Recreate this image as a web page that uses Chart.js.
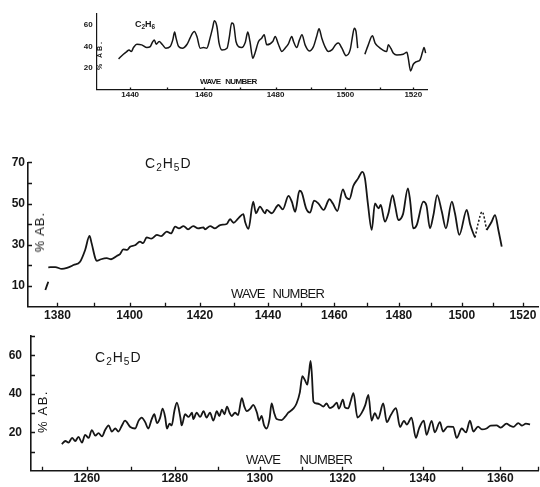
<!DOCTYPE html>
<html>
<head>
<meta charset="utf-8">
<script src="https://cdn.jsdelivr.net/npm/chart.js@4.4.1/dist/chart.umd.min.js"></script>
<style>
    body { margin: 0; background: #fff; }
    #page { position: relative; width: 540px; height: 487px; overflow: hidden;
            font-family: "Liberation Sans", Arial, sans-serif; color: #161616; }
    canvas { position: absolute; }
    .lbl { position: absolute; white-space: nowrap; line-height: 1; }
    .lbl sub { font-size: 0.72em; vertical-align: -0.32em; line-height: 0; }
    .vert { writing-mode: vertical-rl; transform: rotate(180deg); }
</style>
</head>
<body>
<div id="page">
    <canvas id="panelTop" width="380" height="105" style="left:60px;top:0px"></canvas>
    <canvas id="panelMid" width="540" height="175" style="left:0px;top:150px"></canvas>
    <canvas id="panelLow" width="540" height="167" style="left:0px;top:320px"></canvas>

    <div class="lbl" style="left:135px;top:20px;font-size:9px;font-weight:bold">C<sub>2</sub>H<sub>6</sub></div>
    <div class="lbl vert" style="left:96px;top:40px;font-size:7px;font-weight:bold;letter-spacing:2px">% AB.</div>
    <div class="lbl" style="left:200px;top:78px;font-size:8px;font-weight:bold;letter-spacing:-0.6px;word-spacing:3px">WAVE NUMBER</div>

    <div class="lbl" style="left:145px;top:156px;font-size:14px;letter-spacing:1px">C<sub>2</sub>H<sub>5</sub>D</div>
    <div class="lbl vert" style="left:33px;top:212px;font-size:13px;letter-spacing:1px">% AB.</div>
    <div class="lbl" style="left:231px;top:287px;font-size:13px;letter-spacing:-0.8px;word-spacing:5px">WAVE NUMBER</div>

    <div class="lbl" style="left:95px;top:350px;font-size:14px;letter-spacing:1px">C<sub>2</sub>H<sub>5</sub>D</div>
    <div class="lbl vert" style="left:36px;top:390px;font-size:13px;letter-spacing:1.5px">% AB.</div>
    <div class="lbl" style="left:246px;top:453px;font-size:13px;letter-spacing:-0.6px;word-spacing:16px">WAVE NUMBER</div>
</div>
<script>
// ------------------------------------------------------------------
// Data (wave number, % absorption)
// ------------------------------------------------------------------

// top: C2H6, gap in the trace near 1504
const c2h6_wn = [
    1436.9, 1438.2, 1439.1, 1439.7, 1440.3, 1440.9, 1441.8, 1443.1, 1444.5, 1445.4,
    1446.0, 1446.5, 1447.0, 1447.8, 1448.6, 1449.6, 1450.8, 1451.5, 1452.0, 1452.4,
    1453.1, 1454.1, 1455.4, 1456.2, 1456.9, 1457.4, 1458.1, 1459.0, 1459.9, 1460.8,
    1461.7, 1462.4, 1462.9, 1463.6, 1464.2, 1465.0, 1466.4, 1467.0, 1467.7, 1468.2,
    1468.9, 1469.6, 1470.5, 1471.5, 1472.2, 1472.8, 1473.6, 1474.2, 1475.2, 1476.1,
    1476.8, 1477.5, 1479.2, 1479.9, 1480.8, 1481.8, 1482.7, 1483.6, 1484.6, 1485.1,
    1486.0, 1486.8, 1487.5, 1488.4, 1489.6, 1490.8, 1491.7, 1492.4, 1493.2, 1494.1,
    1495.1, 1496.1, 1497.3, 1498.0, 1499.0, 1500.2, 1501.4, 1502.0, 1502.6, 1503.1,
    1503.6, 1504.6, 1505.7, 1506.7, 1507.9, 1508.7, 1509.6, 1510.9, 1512.1, 1512.6,
    1513.3, 1514.1, 1515.1, 1517.0, 1518.1, 1518.5, 1519.2, 1520.0, 1521.0, 1522.0,
    1522.8, 1523.2, 1523.7,
];
const c2h6_ab = [
    28.4, 32.7, 35.2, 36.7, 35.2, 38.9, 42.0, 41.4, 38.9, 39.8,
    43.9, 46.0, 42.0, 44.5, 42.0, 38.3, 39.8, 46.0, 53.2, 47.6,
    39.8, 38.3, 42.0, 47.6, 52.3, 53.8, 49.1, 38.3, 38.9, 38.3,
    47.6, 56.9, 63.7, 58.4, 43.0, 36.7, 38.3, 47.6, 61.6, 60.7,
    44.5, 39.8, 38.9, 43.9, 53.2, 44.5, 29.0, 33.7, 44.5, 47.6,
    50.7, 41.4, 44.5, 49.1, 42.0, 35.2, 38.3, 42.0, 49.1, 44.5,
    38.9, 46.0, 50.7, 41.4, 35.8, 39.8, 49.1, 56.3, 47.6, 39.8,
    35.2, 36.7, 42.0, 43.0, 38.3, 31.4, 36.7, 47.6, 56.9, 53.8,
    38.3, null, 32.7, 41.4, 49.8, 43.0, 39.8, 36.7, 35.2, 41.4,
    38.3, 33.7, 32.1, 32.7, 34.6, 29.0, 17.2, 23.4, 25.9, 27.4,
    35.2, 38.9, 33.7,
];

// middle: C2H5D 1380-1513, dotted stretch near 1506
const c2h5d_hi_wn = [
    1377.5, 1379.4, 1381.2, 1382.6, 1384.4, 1386.2, 1387.6, 1388.8, 1389.4, 1390.4,
    1390.8, 1392.0, 1393.6, 1394.8, 1396.4, 1397.3, 1398.2, 1399.3, 1400.1, 1401.5,
    1402.9, 1403.8, 1404.8, 1406.1, 1407.7, 1408.9, 1410.5, 1411.7, 1412.9, 1414.0,
    1415.3, 1416.6, 1418.1, 1419.5, 1421.0, 1421.5, 1423.0, 1424.4, 1425.9, 1427.8,
    1428.8, 1429.8, 1431.2, 1432.7, 1433.2, 1434.2, 1435.6, 1436.4, 1437.6, 1439.1,
    1439.6, 1441.1, 1443.1, 1444.4, 1446.1, 1447.1, 1448.1, 1449.4, 1450.1, 1451.4,
    1452.6, 1453.8, 1455.1, 1456.7, 1458.5, 1459.5, 1460.9, 1462.6, 1463.6, 1464.6,
    1465.8, 1467.3, 1468.6, 1469.4, 1470.3, 1471.5, 1472.5, 1473.6, 1474.3, 1475.6,
    1476.7, 1478.0, 1478.8, 1479.8, 1481.3, 1482.8, 1483.5, 1484.5, 1485.6, 1487.7,
    1488.7, 1489.8, 1490.9, 1492.1, 1493.6, 1494.9, 1496.8, 1497.8, 1499.2, 1501.6,
    1502.7, 1503.7, 1504.3, 1506.6, 1508.1, 1509.7, 1510.8, 1511.9, 1513.0,
];
const c2h5d_hi_ab = [
    19.1, 19.2, 18.3, 18.8, 20.2, 21.8, 27.5, 34.3, 30.7, 23.5,
    22.2, 23.0, 23.5, 23.0, 24.6, 25.5, 27.8, 27.5, 29.1, 29.8,
    31.5, 30.8, 33.6, 33.0, 34.8, 34.2, 36.4, 35.5, 38.8, 38.0,
    39.1, 37.5, 39.1, 38.0, 38.5, 37.5, 39.1, 38.0, 39.6, 40.1,
    42.4, 40.7, 42.8, 44.9, 41.2, 37.7, 50.9, 45.3, 48.5, 45.3,
    46.9, 45.3, 49.3, 47.2, 53.7, 50.9, 46.0, 56.2, 55.3, 47.7,
    45.6, 51.4, 50.1, 46.9, 52.1, 50.1, 46.4, 56.9, 53.0, 52.1,
    58.5, 62.2, 65.4, 62.2, 50.1, 37.2, 50.1, 47.7, 49.3, 41.2,
    45.3, 54.1, 49.0, 42.0, 45.0, 57.4, 51.7, 38.0, 39.6, 50.9,
    49.0, 38.0, 44.4, 54.1, 46.0, 38.0, 50.9, 45.3, 34.8, 46.9,
    40.0, 35.6, 33.6, null, 37.2, 41.2, 44.4, 37.2, 29.1,
];
const c2h5d_dot_wn = [1504.3, 1505.3, 1506.6, 1508.1];
const c2h5d_dot_ab = [33.6, 40.4, 46.0, 37.2];
const c2h5d_stub_wn = [1376.7, 1377.5];
const c2h5d_stub_ab = [8.1, 12.1];

// bottom: C2H5D 1254-1368
const c2h5d_lo_wn = [
    1254.4, 1255.2, 1255.9, 1256.7, 1257.4, 1258.1, 1258.9, 1259.6, 1260.4, 1261.1,
    1261.9, 1262.6, 1263.4, 1264.1, 1264.9, 1265.6, 1266.4, 1267.1, 1267.9, 1268.6,
    1269.8, 1270.9, 1271.7, 1272.4, 1273.2, 1273.9, 1274.7, 1275.3, 1275.9, 1276.6,
    1277.2, 1277.8, 1278.2, 1278.8, 1279.3, 1279.9, 1280.5, 1281.3, 1281.6, 1282.4,
    1283.2, 1284.0, 1284.3, 1285.1, 1285.9, 1286.7, 1287.4, 1288.2, 1289.0, 1289.8,
    1290.4, 1291.0, 1291.6, 1292.2, 1292.8, 1293.3, 1294.1, 1294.8, 1295.7, 1296.3,
    1296.9, 1297.7, 1298.4, 1299.3, 1299.8, 1300.4, 1301.0, 1301.6, 1302.3, 1302.8,
    1303.4, 1304.0, 1305.2, 1306.0, 1306.8, 1308.0, 1308.8, 1309.6, 1310.2, 1310.8,
    1311.4, 1311.8, 1312.2, 1312.5, 1312.9, 1313.7, 1314.5, 1315.3, 1316.1, 1316.9,
    1317.7, 1318.6, 1319.1, 1320.1, 1320.6, 1321.4, 1322.0, 1322.7, 1323.7, 1324.7,
    1325.6, 1326.4, 1327.2, 1328.0, 1328.8, 1330.1, 1331.0, 1332.0, 1333.3, 1334.3,
    1335.3, 1336.0, 1337.2, 1338.3, 1339.1, 1340.3, 1341.0, 1342.3, 1343.1, 1344.4,
    1345.2, 1346.4, 1347.8, 1348.7, 1350.0, 1351.1, 1352.1, 1353.0, 1354.2, 1355.2,
    1356.4, 1357.5, 1359.0, 1360.1, 1361.6, 1362.5, 1363.4, 1364.7, 1365.7, 1366.7,
    1367.8,
];
const c2h5d_lo_ab = [
    13.9, 15.5, 14.7, 17.1, 15.5, 17.6, 14.7, 18.7, 17.1, 21.2,
    18.3, 19.6, 17.9, 21.2, 23.6, 20.4, 22.0, 20.4, 23.6, 26.1,
    22.8, 22.0, 26.1, 27.7, 25.3, 22.0, 26.9, 29.4, 24.8, 27.4,
    32.3, 27.7, 22.0, 24.5, 23.6, 31.0, 35.4, 27.7, 23.6, 29.4,
    28.0, 30.2, 26.9, 30.2, 28.0, 31.0, 27.7, 30.2, 26.1, 31.0,
    28.5, 31.8, 29.4, 33.4, 30.2, 28.5, 30.2, 29.0, 37.8, 33.4,
    31.0, 32.3, 34.3, 30.2, 26.1, 28.5, 23.6, 22.0, 26.9, 35.0,
    30.2, 26.9, 26.4, 28.0, 30.2, 32.3, 35.0, 40.8, 49.2, 47.3,
    44.8, 50.6, 57.1, 50.6, 36.0, 35.0, 34.5, 33.4, 35.0, 32.6,
    33.4, 35.5, 32.3, 37.0, 33.0, 32.5, 36.0, 40.4, 27.7, 30.0,
    34.0, 39.5, 26.1, 30.0, 27.0, 35.0, 25.3, 29.0, 32.6, 22.8,
    26.0, 24.0, 27.7, 17.1, 22.0, 26.1, 18.7, 26.0, 20.0, 25.3,
    20.4, 23.0, 22.8, 17.1, 22.0, 20.0, 26.1, 20.4, 23.0, 21.5,
    22.0, 23.5, 23.6, 22.5, 24.5, 23.5, 22.8, 24.8, 23.5, 24.5,
    24.1,
];

// axis ticks
const top_x_ticks = [1440, 1450, 1460, 1470, 1480, 1490, 1500, 1510, 1520];
const top_y_ticks = [20, 40, 60];
const mid_x_ticks = [1380, 1390, 1400, 1410, 1420, 1430, 1440, 1450, 1460, 1470, 1480, 1490, 1500, 1510, 1520];
const mid_y_ticks = [10, 20, 30, 40, 50, 60, 70];
const mid_y_labels = [10, 30, 50, 70];
const low_x_ticks = [1250, 1260, 1270, 1280, 1290, 1300, 1310, 1320, 1330, 1340, 1350, 1360, 1370];
const low_y_ticks = [10, 20, 30, 40, 50, 60, 70];
const low_y_labels = [20, 40, 60];

// ------------------------------------------------------------------
// Helpers
// ------------------------------------------------------------------

const INK = '#161616';

// the chart paper is linear in wavelength, so plot against 1e4 / wave number
function to_um(wn) {
    return 1e4 / wn;
}

function series(wn, ab) {
    return wn.map((w, i) => ({ x: to_um(w), y: ab[i] }));
}

// tick marks pointing into the plot
const inner_ticks = {
    id: 'innerTicks',
    afterDraw(chart, args, opts) {
        const { ctx, chartArea, scales } = chart;
        ctx.save();
        ctx.strokeStyle = INK;
        ctx.lineWidth = 1.3;
        ctx.beginPath();
        if (opts.x) {
            scales.x.ticks.forEach(t => {
                const px = Math.round(scales.x.getPixelForValue(t.value)) + 0.5;
                ctx.moveTo(px, chartArea.bottom);
                ctx.lineTo(px, chartArea.bottom - opts.x);
            });
        }
        if (opts.y) {
            scales.y.ticks.forEach(t => {
                const py = Math.round(scales.y.getPixelForValue(t.value)) + 0.5;
                ctx.moveTo(chartArea.left, py);
                ctx.lineTo(chartArea.left + opts.y, py);
            });
        }
        ctx.stroke();
        ctx.restore();
    },
};

function build_panel(canvas_id, p) {
    new Chart(document.getElementById(canvas_id), {
        type: 'line',
        data: { datasets: p.datasets },
        options: {
            responsive: false,
            animation: false,
            layout: { padding: p.padding },
            elements: {
                point: { radius: 0 },
                line: { borderColor: INK, borderWidth: p.lw, cubicInterpolationMode: 'monotone', fill: false },
            },
            plugins: {
                legend: { display: false },
                tooltip: { enabled: false },
                innerTicks: p.inner,
            },
            scales: {
                x: {
                    type: 'linear',
                    reverse: true,
                    min: to_um(p.wn_max),
                    max: to_um(p.wn_min),
                    afterBuildTicks: s => { s.ticks = p.x_ticks.map(w => ({ value: to_um(w) })); },
                    afterFit: s => { s.height = p.x_h; },
                    grid: { display: false, drawTicks: false },
                    border: { display: true, color: INK, width: p.axis_w },
                    ticks: {
                        autoSkip: false,
                        maxRotation: 0,
                        padding: p.x_pad,
                        color: INK,
                        font: p.font,
                        callback: v => {
                            const w = Math.round(1e4 / v);
                            return w % 20 === 0 ? String(w) : '';
                        },
                    },
                },
                y: {
                    min: 0,
                    max: 70,
                    afterBuildTicks: s => { s.ticks = p.y_ticks.map(v => ({ value: v })); },
                    afterFit: s => { s.width = p.y_w; },
                    grid: { display: false, drawTicks: false },
                    border: { display: true, color: INK, width: p.axis_w },
                    ticks: {
                        autoSkip: false,
                        padding: p.y_pad,
                        color: INK,
                        font: p.font,
                        callback: v => p.y_labels.includes(v) ? String(v) : '',
                    },
                },
            },
        },
        plugins: [inner_ticks],
    });
}

// ------------------------------------------------------------------
// Panels
// ------------------------------------------------------------------

build_panel('panelTop', {
    datasets: [{ data: series(c2h6_wn, c2h6_ab), spanGaps: false }],
    padding: { left: 0, right: 13, top: 14, bottom: 0 },
    wn_min: 1431.1, wn_max: 1524.1,
    x_ticks: top_x_ticks, y_ticks: top_y_ticks, y_labels: top_y_ticks,
    x_h: 15.5, y_w: 36.7, x_pad: 0, y_pad: 4,
    font: { family: 'Liberation Sans', size: 8, weight: 'bold' },
    lw: 1.5, axis_w: 1.2,
    inner: { x: 2, y: 0 },
});

build_panel('panelMid', {
    datasets: [
        { data: series(c2h5d_hi_wn, c2h5d_hi_ab), spanGaps: false },
        { data: series(c2h5d_dot_wn, c2h5d_dot_ab), borderDash: [2, 2], borderWidth: 1.5 },
        { data: series(c2h5d_stub_wn, c2h5d_stub_ab) },
    ],
    padding: { left: 0, right: 2, top: 12.3, bottom: 0 },
    wn_min: 1372.0, wn_max: 1525.0,
    x_ticks: mid_x_ticks, y_ticks: mid_y_ticks, y_labels: mid_y_labels,
    x_h: 18.3, y_w: 28, x_pad: 2, y_pad: 3,
    font: { family: 'Liberation Sans', size: 12, weight: 'bold' },
    lw: 1.8, axis_w: 1.6,
    inner: { x: 4, y: 4 },
});

build_panel('panelLow', {
    datasets: [{ data: series(c2h5d_lo_wn, c2h5d_lo_ab) }],
    padding: { left: 0, right: 2, top: 10, bottom: 0 },
    wn_min: 1247.6, wn_max: 1369.9,
    x_ticks: low_x_ticks, y_ticks: low_y_ticks, y_labels: low_y_labels,
    x_h: 13.7, y_w: 31, x_pad: 1, y_pad: 9,
    font: { family: 'Liberation Sans', size: 12, weight: 'bold' },
    lw: 1.8, axis_w: 1.6,
    inner: { x: 4, y: 4 },
});
</script>
</body>
</html>
